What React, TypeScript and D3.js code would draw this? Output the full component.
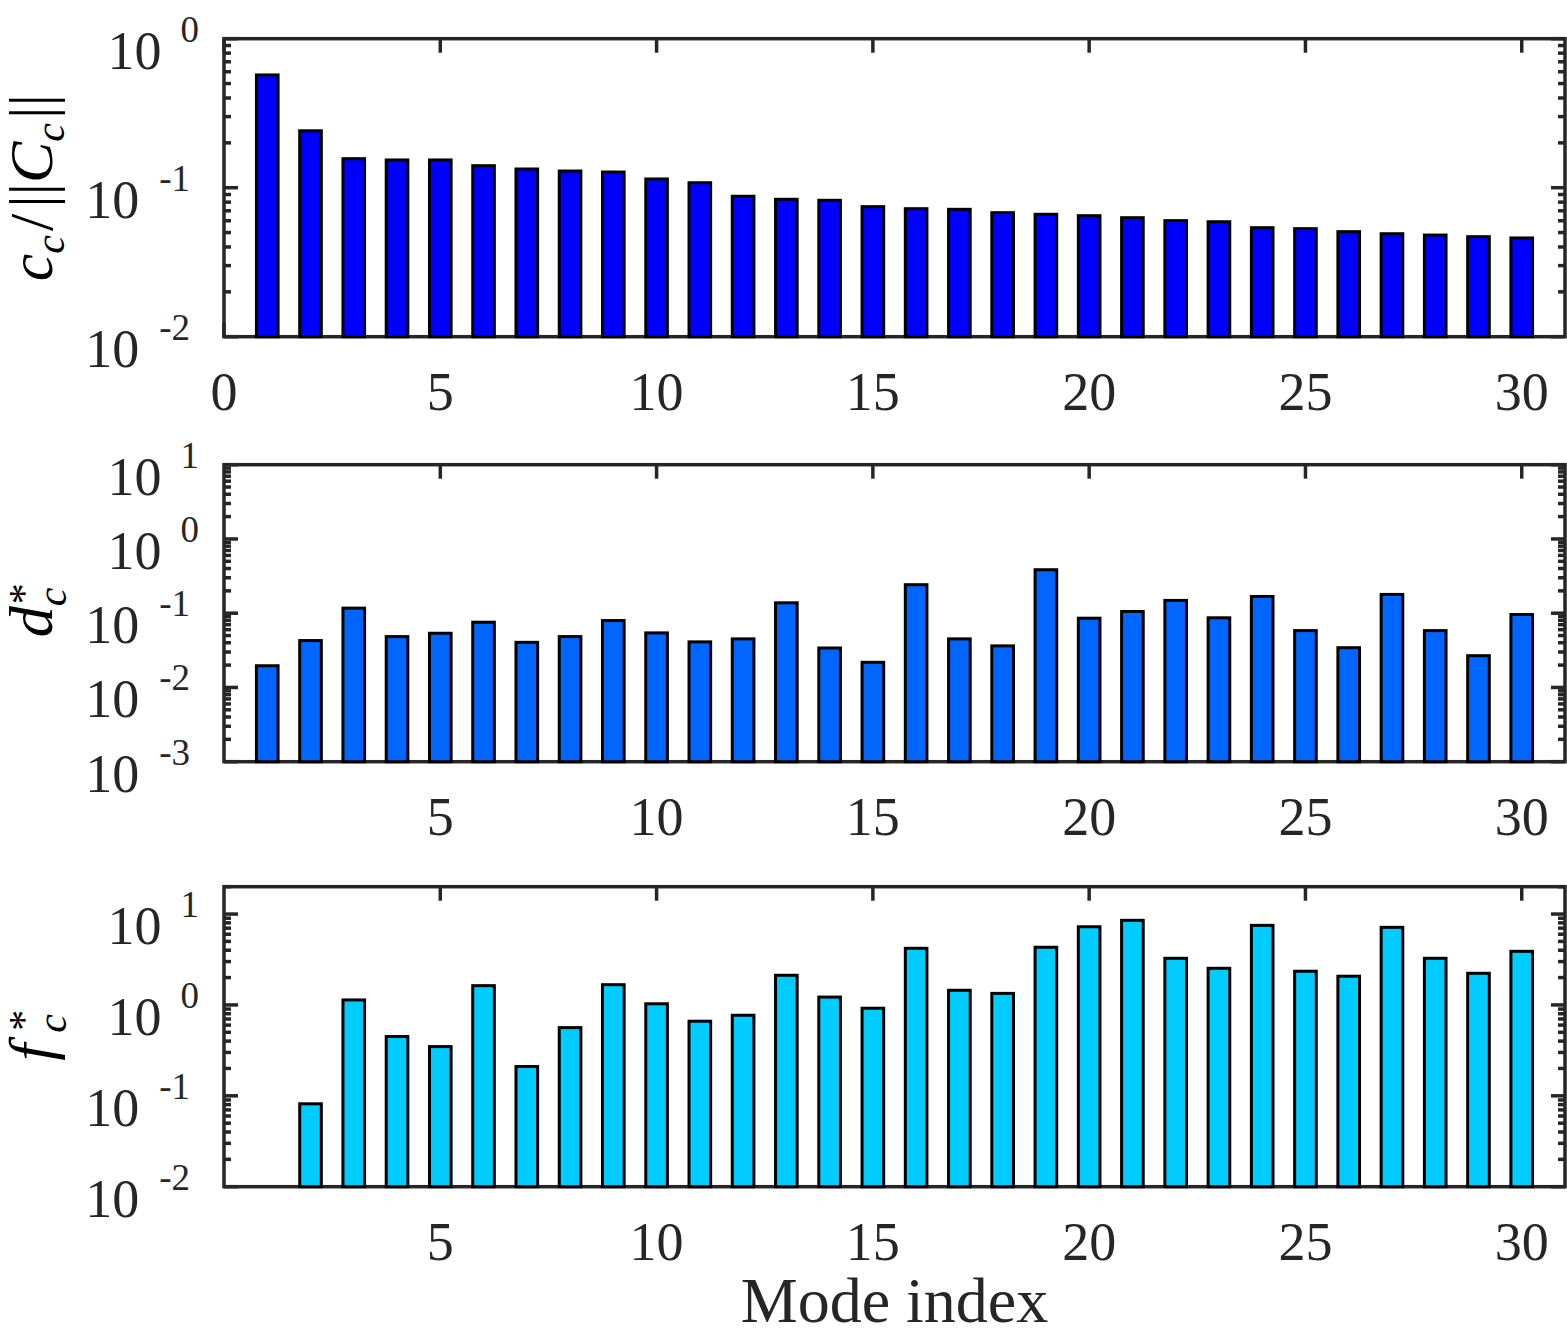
import * as d3 from "d3";
import React from "react";

// mode indices on the x axis
const modes = [1, 2, 3, 4, 5, 6, 7, 8, 9, 10, 11, 12, 13, 14, 15, 16, 17, 18, 19, 20, 21, 22, 23, 24, 25, 26, 27, 28, 29, 30];

// c_c / ||C_c||
const ccNorm = [
  0.571, 0.241, 0.1566, 0.1535, 0.1535, 0.1405, 0.1335, 0.1294, 0.1274, 0.1144,
  0.108, 0.0876, 0.0836, 0.0823, 0.0746, 0.0723, 0.0716, 0.068, 0.0663, 0.0649,
  0.0629, 0.0601, 0.0591, 0.0539, 0.0531, 0.0507, 0.0491, 0.0481, 0.0469, 0.046,
];

// d_c^*
const dStar = [
  0.0196, 0.0428, 0.117, 0.0484, 0.0537, 0.0756, 0.0405, 0.0484, 0.0796, 0.0543,
  0.0411, 0.0451, 0.138, 0.034, 0.0218, 0.242, 0.0451, 0.0363, 0.385, 0.0856,
  0.1054, 0.1486, 0.0867, 0.168, 0.0583, 0.0343, 0.179, 0.0583, 0.0268, 0.096,
];

// f_c^* (mode 1 has no bar)
const fStar = [
  null, 0.0817, 1.135, 0.449, 0.348, 1.63, 0.21, 0.563, 1.67, 1.03,
  0.662, 0.77, 2.12, 1.22, 0.92, 4.2, 1.45, 1.34, 4.31, 7.25,
  8.53, 3.26, 2.53, 7.51, 2.35, 2.07, 7.14, 3.26, 2.23, 3.89,
];

const xTicksFirst = [0, 5, 10, 15, 20, 25, 30];
const xTicksRest = [5, 10, 15, 20, 25, 30];

const W = 1567;
const H = 1339;
const AX = "#262626";
const FONT = "'Liberation Serif', 'Times New Roman', serif";

const x = d3.scaleLinear().domain([0, 31]).range([224, 1565]);
const barW = x(0.5) - x(0);

type PanelProps = {
  top: number;
  bottom: number;
  domain: [number, number];
  values: (number | null)[];
  color: string;
  xTicks: number[];
  label: React.ReactNode;
};

function Panel({ top, bottom, domain, values, color, xTicks, label }: PanelProps) {
  const y = d3.scaleLog().domain(domain).range([bottom, top]);
  const yTicks = y.ticks();
  const isMajor = (t: number) => Math.abs(Math.log10(t) - Math.round(Math.log10(t))) < 1e-6;
  const [x0, x1] = x.range();

  return (
    <g>
      {/* y ticks, both sides */}
      {yTicks.map((t, i) => {
        const yy = y(t);
        const len = isMajor(t) ? 14 : 7;
        return (
          <g key={"yt" + i} stroke={AX} strokeWidth={3.5}>
            <line x1={x0} x2={x0 + len} y1={yy} y2={yy} />
            <line x1={x1} x2={x1 - len} y1={yy} y2={yy} />
          </g>
        );
      })}
      {/* x ticks, top and bottom */}
      {xTicks.map(t => (
        <g key={"xt" + t} stroke={AX} strokeWidth={3.5}>
          <line x1={x(t)} x2={x(t)} y1={top} y2={top + 14} />
          <line x1={x(t)} x2={x(t)} y1={bottom} y2={bottom - 14} />
        </g>
      ))}
      <rect x={x0} y={top} width={x1 - x0} height={bottom - top} fill="none" stroke={AX} strokeWidth={3.5} />

      {/* bars */}
      {values.map((v, i) =>
        v == null ? null : (
          <rect
            key={"b" + i}
            x={x(modes[i]) - barW / 2}
            y={y(v)}
            width={barW}
            height={bottom - y(v)}
            fill={color}
            stroke="#000"
            strokeWidth={3}
          />
        )
      )}

      {/* y tick labels */}
      {yTicks.filter(isMajor).map((t, i) => {
        const e = Math.round(Math.log10(t));
        const yy = y(t);
        return (
          <text key={"yl" + i} x={e >= 0 ? 199 : 190} y={yy + 30} textAnchor="end" fontSize={54} fill={AX} fontFamily={FONT}>
            10
            <tspan dx={e >= 0 ? 19 : 20} dy={-27} fontSize={37}>
              {e < 0 ? "-" + Math.abs(e) : String(e)}
            </tspan>
          </text>
        );
      })}

      {/* x tick labels */}
      {xTicks.map(t => (
        <text key={"xl" + t} x={x(t)} y={bottom + 73} textAnchor="middle" fontSize={54} fill={AX} fontFamily={FONT}>
          {t}
        </text>
      ))}

      <g transform={`translate(52, ${(top + bottom) / 2}) rotate(-90)`} fontFamily={FONT} fill="#000">
        {label}
      </g>
    </g>
  );
}

export default function App() {
  return (
    <svg width={W} height={H} style={{ position: "absolute", left: 0, top: 0, background: "#fff" }}>
      <rect width={W} height={H} fill="#fff" />
      <Panel
        top={38.7}
        bottom={336.7}
        domain={[0.01, 1]}
        values={ccNorm}
        color="#0000FF"
        xTicks={xTicksFirst}
        label={
          <text textAnchor="middle" fontSize={62} fontStyle="italic">
            c<tspan fontSize={42} dy={12}>c</tspan>
            <tspan dy={-12} dx={4} fontStyle="normal">/</tspan>
            <tspan dx={6} fontStyle="normal">||</tspan>C<tspan fontSize={42} dy={12}>c</tspan>
            <tspan dy={-12} dx={4} fontStyle="normal">||</tspan>
          </text>
        }
      />
      <Panel
        top={464.7}
        bottom={761.7}
        domain={[0.001, 10]}
        values={dStar}
        color="#0066FF"
        xTicks={xTicksRest}
        label={
          <g fontStyle="italic">
            <text x={-24} y={0} fontSize={62}>d</text>
            <text x={7} y={-14} fontSize={42}>*</text>
            <text x={7} y={14} fontSize={42}>c</text>
          </g>
        }
      />
      <Panel
        top={886.7}
        bottom={1186.7}
        domain={[0.01, 20]}
        values={fStar}
        color="#00CCFF"
        xTicks={xTicksRest}
        label={
          <g fontStyle="italic">
            <text x={-24} y={0} fontSize={62}>f</text>
            <text x={4} y={-14} fontSize={42}>*</text>
            <text x={4} y={14} fontSize={42}>c</text>
          </g>
        }
      />
      <text x={x(15.5)} y={1322} textAnchor="middle" fontSize={64} fill={AX} fontFamily={FONT}>
        Mode index
      </text>
    </svg>
  );
}
